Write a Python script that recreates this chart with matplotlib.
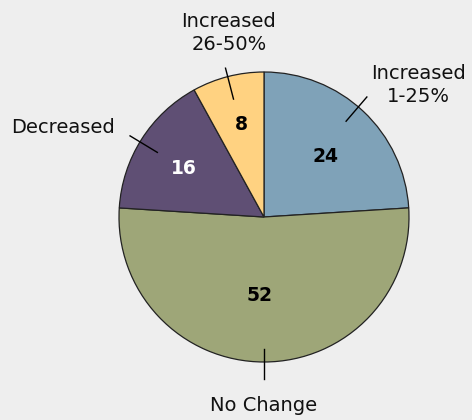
import numpy as np
import matplotlib.pyplot as plt

# survey shares, clockwise from 12 o'clock
categories = ["Increased\n1-25%", "No Change", "Decreased", "Increased\n26-50%"]
values = [24, 52, 16, 8]
colors = ["#7fa2b8", "#9ea678", "#5f4f74", "#ffd281"]
value_colors = ["black", "black", "white", "black"]

# value label placement inside wedges (angle deg, radius)
value_pos = [(44.5, 0.595), (-93, 0.54), (149, 0.643), (104, 0.654)]
# leader lines (angle deg, inner r, outer r) and outer label (angle deg, radius)
leader = [(49.4, 0.87, 1.09), (-90, 0.91, 1.12), (148.8, 0.86, 1.08), (104.5, 0.84, 1.06)]
label_pos = [(40.6, 1.40), (-90, 1.30), (155.9, 1.52), (100.8, 1.29)]

plt.rcParams['font.family'] = 'DejaVu Sans'

fig = plt.figure(figsize=(4.72, 4.2), dpi=100)
fig.patch.set_facecolor("#eeeeee")
ax = fig.add_axes([0, 0, 1, 1])
ax.set_facecolor("#eeeeee")

ax.pie(values, colors=colors, startangle=90, counterclock=False, radius=1,
       wedgeprops=dict(edgecolor="#222222", linewidth=0.9))

for v, c, (a, r) in zip(values, value_colors, value_pos):
    t = np.radians(a)
    ax.text(r * np.cos(t), r * np.sin(t), str(v), color=c, fontsize=13.5,
            fontweight="bold", ha="center", va="center")

for (a, r0, r1) in leader:
    t = np.radians(a)
    ax.plot([r0 * np.cos(t), r1 * np.cos(t)], [r0 * np.sin(t), r1 * np.sin(t)],
            color="black", linewidth=1)

for lab, (a, r) in zip(categories, label_pos):
    t = np.radians(a)
    ax.text(r * np.cos(t), r * np.sin(t), lab, fontsize=14, ha="center",
            va="center", linespacing=1.25, color="#111111")

ax.set_xlim(-264 / 145, 208 / 145)
ax.set_ylim(-203 / 145, 217 / 145)
ax.set_aspect("equal")
ax.axis("off")

fig.savefig("out.png", dpi=100, facecolor=fig.get_facecolor())
